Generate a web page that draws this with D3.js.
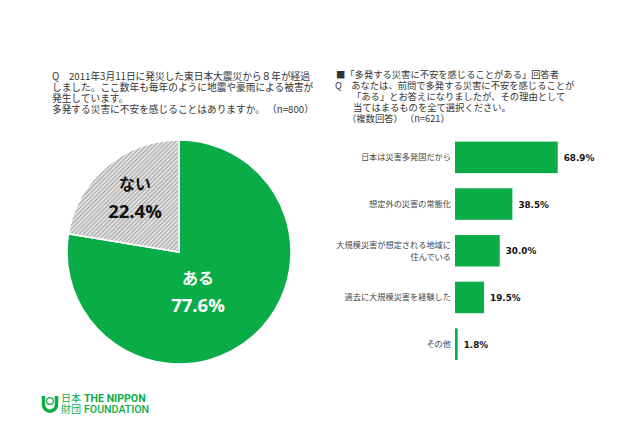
<!DOCTYPE html>
<html>
<head>
<meta charset="utf-8">
<script src="https://cdn.jsdelivr.net/npm/d3@7"></script>
<style>
  html, body { margin: 0; padding: 0; background: #fff; }
  svg { display: block; }
  text { font-family: "Noto Sans CJK JP", "DejaVu Sans", sans-serif; }
</style>
</head>
<body>
<div id="chart"></div>
<script>
// Data
var PIE_LABELS = ['ある', 'ない'];
var PIE_VALUES = [77.6, 22.4];
var BAR_LABELS = [
  ['日本は災害多発国だから'],
  ['想定外の災害の常態化'],
  ['大規模災害が想定される地域に', '住んでいる'],
  ['過去に大規模災害を経験した'],
  ['その他']
];
var BAR_VALUES = [68.9, 38.5, 30.0, 19.5, 1.8];
var LEFT_TEXT = [
  'Q　2011年3月11日に発災した東日本大震災から８年が経過',
  'しました。ここ数年も毎年のように地震や豪雨による被害が',
  '発生しています。',
  '多発する災害に不安を感じることはありますか。 （n=800）'
];
var RIGHT_TEXT = [
  ['■「多発する災害に不安を感じることがある」回答者', 336],
  ['Q　あなたは、前問で多発する災害に不安を感じることが', 335],
  ['「ある」とお答えになりましたが、その理由として', 352],
  ['当てはまるものを全て選択ください。', 353],
  ['（複数回答） （n=621）', 347]
];

var GREEN = '#0aac47';
var width = 640;
var height = 426;

var svg = d3.select('#chart').append('svg')
    .attr('width', width)
    .attr('height', height);

// Hatch for the grey slice
var pattern = svg.append('defs').append('pattern')
    .attr('id', 'hatch')
    .attr('width', 3)
    .attr('height', 3)
    .attr('patternUnits', 'userSpaceOnUse')
    .attr('patternTransform', 'rotate(45)');
pattern.append('rect').attr('width', 3).attr('height', 3).attr('fill', '#eeeeee');
pattern.append('rect').attr('width', 1.4).attr('height', 3).attr('fill', '#a6a6a6');

// Question texts
svg.append('g').selectAll('text')
    .data(LEFT_TEXT)
    .enter().append('text')
    .attr('x', 52)
    .attr('y', function(d, i) { return 80 + i * 11; })
    .attr('font-size', 9.7)
    .attr('fill', '#333')
    .text(function(d) { return d; });

svg.append('g').selectAll('text')
    .data(RIGHT_TEXT)
    .enter().append('text')
    .attr('x', function(d) { return d[1]; })
    .attr('y', function(d, i) { return 77.5 + i * 11.2; })
    .attr('font-size', 9.3)
    .attr('fill', '#333')
    .text(function(d) { return d[0]; });

// Pie
var pie = d3.pie().sort(null).value(function(d) { return d; });
var arc = d3.arc().innerRadius(0).outerRadius(112);
var pieG = svg.append('g').attr('transform', 'translate(179,252)');

pieG.selectAll('path')
    .data(pie(PIE_VALUES))
    .enter().append('path')
    .attr('d', arc)
    .attr('fill', function(d, i) { return i == 0 ? GREEN : 'url(#hatch)'; })
    .attr('stroke', '#fff')
    .attr('stroke-width', 1.5);

var pieText = [
  {x: 19, y: 32, fill: '#fff'},
  {x: -44, y: -62, fill: '#111'}
];
pieG.selectAll('.pieName')
    .data(PIE_LABELS)
    .enter().append('text')
    .attr('class', 'pieName')
    .attr('x', function(d, i) { return pieText[i].x; })
    .attr('y', function(d, i) { return pieText[i].y; })
    .attr('text-anchor', 'middle')
    .attr('font-size', 16)
    .attr('font-weight', 700)
    .attr('fill', function(d, i) { return pieText[i].fill; })
    .text(function(d) { return d; });

pieG.selectAll('.pieValue')
    .data(PIE_VALUES)
    .enter().append('text')
    .attr('class', 'pieValue')
    .attr('x', function(d, i) { return pieText[i].x; })
    .attr('y', function(d, i) { return pieText[i].y + 28; })
    .attr('text-anchor', 'middle')
    .attr('font-size', 18.5)
    .attr('font-weight', 700)
    .style('font-family', 'Open Sans, sans-serif')
    .attr('fill', function(d, i) { return pieText[i].fill; })
    .text(function(d) { return d.toFixed(1) + '%'; });

// Bars
var xScale = d3.scaleLinear().domain([0, 68.9]).range([455, 557.7]);
var yScale = d3.scaleBand()
    .domain(d3.range(BAR_VALUES.length))
    .range([134, 367.5])
    .paddingInner(0.325)
    .paddingOuter(0.163);

svg.append('g').selectAll('rect')
    .data(BAR_VALUES)
    .enter().append('rect')
    .attr('x', xScale(0))
    .attr('y', function(d, i) { return yScale(i); })
    .attr('width', function(d) { return xScale(d) - xScale(0); })
    .attr('height', yScale.bandwidth())
    .attr('fill', GREEN);

svg.append('g').selectAll('text')
    .data(BAR_VALUES)
    .enter().append('text')
    .attr('x', function(d) { return xScale(d) + 6; })
    .attr('y', function(d, i) { return yScale(i) + yScale.bandwidth() / 2 + 3.5; })
    .attr('font-size', 8.8)
    .attr('font-weight', 700)
    .style('font-family', '"DejaVu Sans", sans-serif')
    .attr('fill', '#111')
    .text(function(d) { return d.toFixed(1) + '%'; });

var labelG = svg.append('g').selectAll('text')
    .data(BAR_LABELS)
    .enter().append('text')
    .attr('text-anchor', 'end')
    .attr('font-size', 8.2)
    .attr('fill', '#444');

labelG.each(function(lines, i) {
  var mid = yScale(i) + yScale.bandwidth() / 2;
  d3.select(this).selectAll('tspan')
    .data(lines)
    .enter().append('tspan')
    .attr('x', 451)
    .attr('y', function(d, j) { return mid + 3 + (j - (lines.length - 1) / 2) * 12; })
    .text(function(d) { return d; });
});

// Logo
var logo = svg.append('g');
logo.append('path')
    .attr('d', 'M43.5 396 V404.7 A6.5 6.5 0 0 0 56.5 404.7 V396')
    .attr('fill', 'none')
    .attr('stroke', GREEN)
    .attr('stroke-width', 3.5);
logo.append('circle')
    .attr('cx', 50)
    .attr('cy', 401)
    .attr('r', 3.4)
    .attr('fill', 'none')
    .attr('stroke', GREEN)
    .attr('stroke-width', 1.2);
logo.append('text').attr('x', 61).attr('y', 402)
    .attr('font-size', 10).attr('fill', GREEN).text('日本');
logo.append('text').attr('x', 61).attr('y', 413)
    .attr('font-size', 10).attr('fill', GREEN).text('財団');
logo.append('text').attr('x', 84).attr('y', 402)
    .attr('font-size', 10.6).attr('font-weight', 700).attr('fill', GREEN)
    .style('font-family', 'Roboto, sans-serif').text('THE NIPPON');
logo.append('text').attr('x', 84).attr('y', 413)
    .attr('font-size', 10.6).attr('font-weight', 500).attr('fill', GREEN)
    .style('font-family', 'Roboto, sans-serif').text('FOUNDATION');
</script>
</body>
</html>
